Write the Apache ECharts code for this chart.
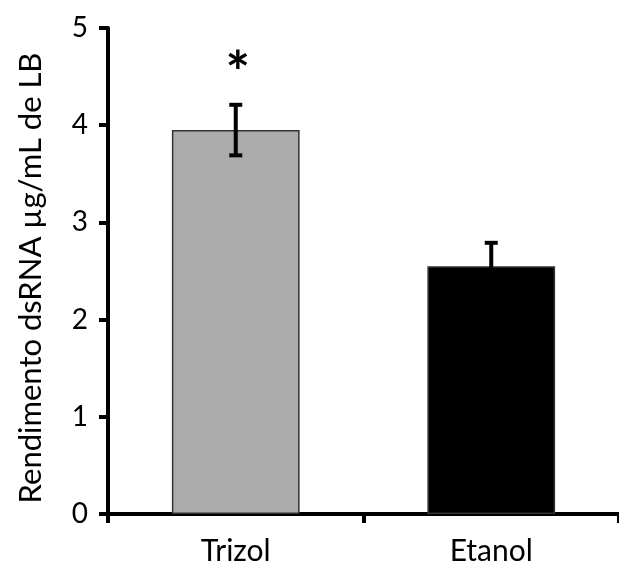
<!DOCTYPE html>
<html><head><meta charset="utf-8">
<script src="https://cdn.jsdelivr.net/npm/echarts@6/dist/echarts.min.js"></script>
<style>html,body{margin:0;padding:0;background:#fff}#c{width:619px;height:566px}</style>
</head><body><div id="c"></div>
<script>
var categories = ['Trizol', 'Etanol'];
var means = [3.95, 2.55];
var errors = [0.26, 0.24];
var sigMarks = ['*', ''];
var barColors = ['#ababab', '#000000'];
var yTicks = [0, 1, 2, 3, 4, 5];

var FONT = 'Lato';
var chart = echarts.init(document.getElementById('c'), null, {renderer: 'canvas'});
chart.setOption({
  animation: false,
  grid: {left: 108, right: -9, top: 28, bottom: 52},
  xAxis: {
    type: 'category', data: categories, boundaryGap: true,
    axisLine: {lineStyle: {color: '#000', width: 4}},
    axisTick: {show: true, length: 9, lineStyle: {color: '#000', width: 4}},
    axisLabel: {color: '#000', fontSize: 30, fontFamily: FONT, margin: 22}
  },
  yAxis: {
    type: 'value', min: yTicks[0], max: yTicks[yTicks.length - 1], interval: 1,
    name: 'Rendimento dsRNA µg/mL de LB', nameLocation: 'middle', nameGap: 62,
    nameTextStyle: {color: '#000', fontSize: 31, fontFamily: FONT, padding: [0, 14, 0, 0]},
    axisLine: {show: true, lineStyle: {color: '#000', width: 4}},
    axisTick: {show: true, length: 9, lineStyle: {color: '#000', width: 4}},
    axisLabel: {color: '#000', fontSize: 28, fontFamily: FONT, margin: 20},
    splitLine: {show: false}
  },
  series: [
    {
      type: 'bar', barWidth: '50%',
      data: means.map(function (v, i) {
        return {value: v, itemStyle: {color: barColors[i], borderColor: '#333', borderWidth: 1.5}};
      })
    },
    {
      type: 'custom',
      data: means.map(function (v, i) { return [i, v - errors[i], v + errors[i], sigMarks[i]]; }),
      renderItem: function (params, api) {
        var lo = api.coord([api.value(0), api.value(1)]);
        var hi = api.coord([api.value(0), api.value(2)]);
        var hw = 6.5;
        var children = [
          {type: 'line', shape: {x1: hi[0], y1: hi[1], x2: lo[0], y2: lo[1]}, style: {stroke: '#000', lineWidth: 4}},
          {type: 'line', shape: {x1: hi[0] - hw, y1: hi[1], x2: hi[0] + hw, y2: hi[1]}, style: {stroke: '#000', lineWidth: 4}},
          {type: 'line', shape: {x1: lo[0] - hw, y1: lo[1], x2: lo[0] + hw, y2: lo[1]}, style: {stroke: '#000', lineWidth: 4}}
        ];
        var mark = sigMarks[params.dataIndex];
        if (mark) {
          children.push({type: 'text', style: {x: hi[0] + 2, y: hi[1] - 30, text: mark, fill: '#000',
            font: 'bold 58px ' + FONT, align: 'center', verticalAlign: 'middle'}});
        }
        return {type: 'group', children: children};
      },
      z: 5
    }
  ]
});
</script></body></html>
